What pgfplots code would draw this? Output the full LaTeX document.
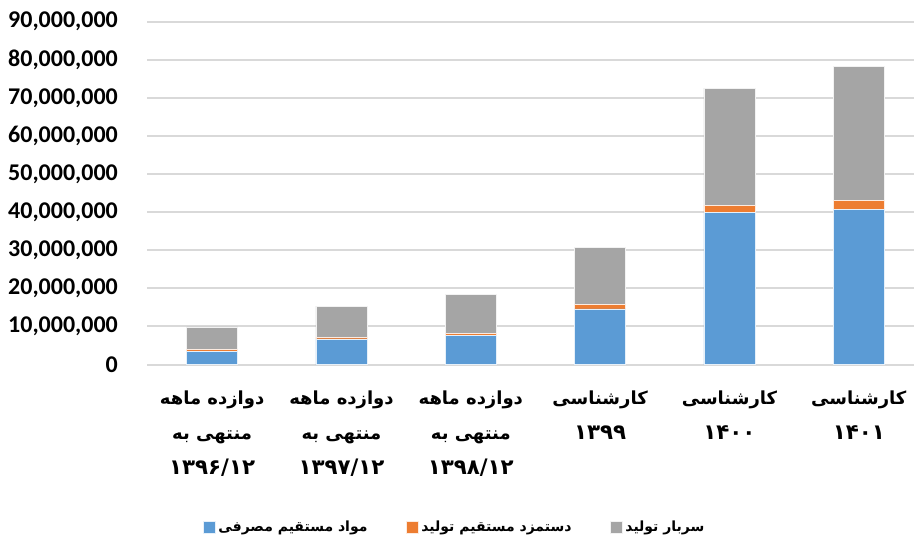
\documentclass[border=0pt]{standalone}
\usepackage{fontspec}
\usepackage{pgfplots}
\pgfplotsset{compat=1.18}
\setmainfont{Carlito}
\newfontfamily\ar[Script=Arabic]{DejaVu Sans}
\TeXXeTstate=1
\definecolor{cblue}{HTML}{5B9BD5}
\definecolor{corange}{HTML}{ED7D31}
\definecolor{cgray}{HTML}{A5A5A5}
\definecolor{cgrid}{HTML}{D9D9D9}
\newcommand{\dg}[1]{{\fontsize{16}{26}\selectfont #1}}
\begin{document}
\begin{tikzpicture}
\useasboundingbox (-110.6pt,-135.4pt) rectangle (574.9pt,273.4pt);
\begin{axis}[
  scale only axis,
  width=582pt, height=257.25pt,
  ybar stacked,
  bar width=0.394,
  xmin=-0.5, xmax=5.5,
  ymin=0, ymax=90000000,
  ytick={0,10000000,...,90000000},
  xtick={0,1,2,3,4,5},
  xticklabels={
    {\beginR دوازده ماهه\endR\\\beginR منتهی به\endR\\\dg{۱۳۹۶/۱۲}},
    {\beginR دوازده ماهه\endR\\\beginR منتهی به\endR\\\dg{۱۳۹۷/۱۲}},
    {\beginR دوازده ماهه\endR\\\beginR منتهی به\endR\\\dg{۱۳۹۸/۱۲}},
    {\beginR کارشناسی\endR\\\dg{۱۳۹۹}},
    {\beginR کارشناسی\endR\\\dg{۱۴۰۰}},
    {\beginR کارشناسی\endR\\\dg{۱۴۰۱}}},
  xticklabel style={font=\ar\bfseries\fontsize{13.5}{26.5}\selectfont, align=center, anchor=north, yshift=-16pt},
  scaled y ticks=false,
  yticklabel style={font=\bfseries\fontsize{18}{20}\selectfont, anchor=east, inner sep=0pt, xshift=-22pt},
  /pgf/number format/.cd, fixed, 1000 sep={,}, assume math mode=true,
  /pgfplots/.cd,
  ymajorgrids,
  grid style={cgrid, line width=1.5pt},
  axis line style={draw=none},
  major tick style={draw=none},
  legend columns=3,
  legend style={draw=none, fill=none, at={(0.0715,-0.474)}, anchor=west, inner sep=0pt,
    font=\ar\bfseries\fontsize{10.5}{13}\selectfont,
    /tikz/every even column/.append style={column sep=27pt}},
  legend image code/.code={\fill[#1] (0pt,-4.5pt) rectangle (9pt,4.5pt);},
]
\addplot[fill=cblue, draw=white!85!cblue, line width=0.4pt] coordinates {(0,3400000) (1,6700000) (2,7700000) (3,14600000) (4,40000000) (5,40800000)};
\addplot[fill=corange, draw=white!85!corange, line width=0.4pt] coordinates {(0,600000) (1,500000) (2,550000) (3,1150000) (4,1800000) (5,2300000)};
\addplot[fill=cgray, draw=white!85!cgray, line width=0.4pt] coordinates {(0,5900000) (1,8150000) (2,10250000) (3,15050000) (4,30700000) (5,35200000)};
\legend{\beginR مواد مستقیم مصرفی\endR, \beginR دستمزد مستقیم تولید\endR, \beginR سربار تولید\endR}
\end{axis}
\end{tikzpicture}
\end{document}
